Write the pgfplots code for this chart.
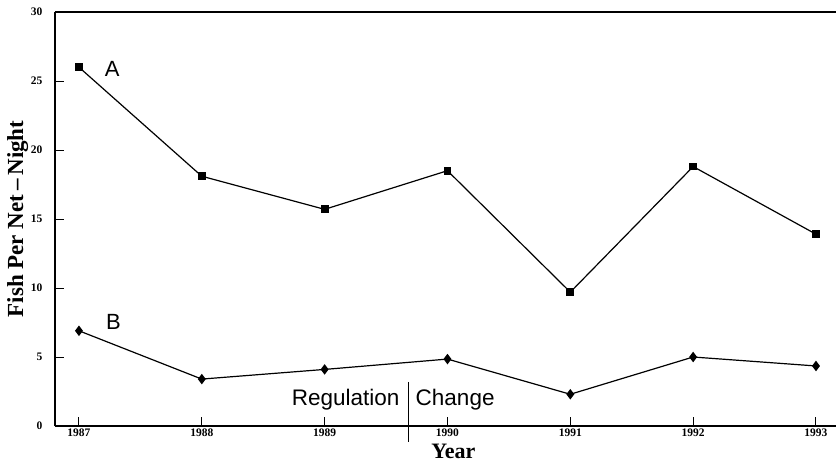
\documentclass[border=0pt]{standalone}
\usepackage{fontspec}
\setmainfont{Liberation Serif}
\newfontfamily\sansf{Liberation Sans}
\usepackage{pgfplots}
\pgfplotsset{compat=1.18}
\begin{document}
\begin{tikzpicture}
\begin{axis}[
  scale only axis,
  width=781bp, height=414bp,
  xmin=1986.805, xmax=1993.163,
  ymin=0, ymax=30,
  axis lines=left,
  axis line style={-, line width=1.5bp},
  tick align=inside,
  xtick={1987,1988,1989,1990,1991,1992,1993},
  xticklabels={1987,1988,1989,1990,1991,1992,1993},
  ytick={0,5,10,15,20,25,30},
  yticklabels={0,5,10,15,20,25,30},
  major tick length=9bp,
  x tick style={line width=1bp, black},
  y tick style={line width=1bp, black},
  tick label style={font=\fontsize{11.5bp}{12bp}\selectfont\bfseries},
  xticklabel style={yshift=1bp},
  yticklabel style={xshift=-9bp},
  xlabel={\fontsize{22bp}{24bp}\selectfont\bfseries Year},
  ylabel={\fontsize{23bp}{25bp}\selectfont\bfseries Fish Per Net\,–\,Night},
  xlabel style={at={(rel axis cs:0.51,0)}, anchor=base, yshift=-32bp},
  ylabel style={yshift=-4bp},
  clip=false,
]
\coordinate (bl) at (rel axis cs:0,0);
\coordinate (tr) at (rel axis cs:1,1);
\draw[line width=1.5bp] (rel axis cs:0,1) -- (rel axis cs:1,1);
\addplot[black, line width=1.2bp, mark=square*, mark size=3.3bp] coordinates {
(1987,26.0) (1988,18.1) (1989,15.7) (1990,18.5) (1991,9.7) (1992,18.8) (1993,13.9)};
\addplot[black, line width=1.2bp, mark=diamond*, mark size=4.3bp] coordinates {
(1987,6.9) (1988,3.4) (1989,4.1) (1990,4.85) (1991,2.3) (1992,5.0) (1993,4.35)};
\node[anchor=base west, inner sep=0pt, font=\sansf\fontsize{22bp}{23bp}\selectfont] at (axis cs:1987.21,25.36) {A};
\node[anchor=base west, inner sep=0pt, font=\sansf\fontsize{22bp}{23bp}\selectfont] at (axis cs:1987.22,6.96) {B};
\node[anchor=base east, inner sep=0pt, font=\sansf\fontsize{22.5bp}{23bp}\selectfont] at (axis cs:1989.61,1.52) {Regulation};
\node[anchor=base west, inner sep=0pt, font=\sansf\fontsize{22.5bp}{23bp}\selectfont] at (axis cs:1989.74,1.52) {Change};
\draw[line width=1bp] (axis cs:1989.68,3.2) -- (axis cs:1989.68,-1.16);
\end{axis}
\pgfresetboundingbox
\path ([shift={(-55bp,-36bp)}]bl) rectangle ([shift={(0bp,12bp)}]tr);
\end{tikzpicture}
\end{document}
